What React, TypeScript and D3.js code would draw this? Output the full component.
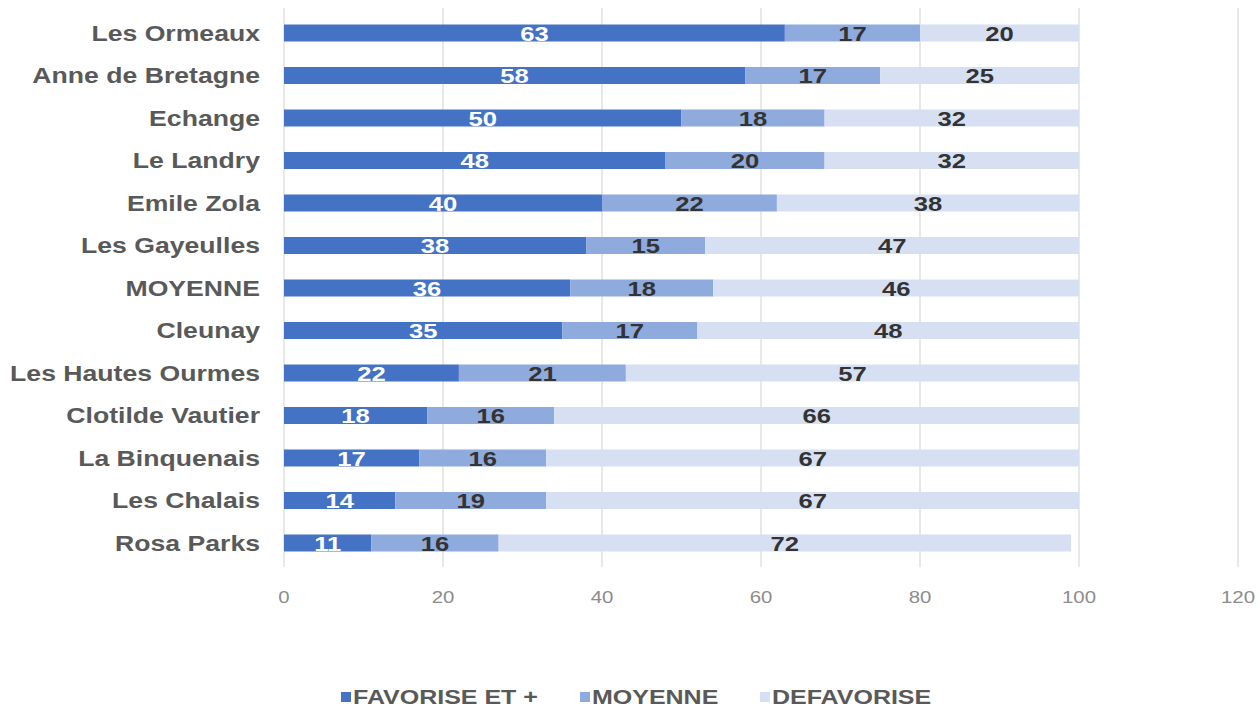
import React from "react";
import * as d3 from "d3";

const categories = [
  "Les Ormeaux",
  "Anne de Bretagne",
  "Echange",
  "Le Landry",
  "Emile Zola",
  "Les Gayeulles",
  "MOYENNE",
  "Cleunay",
  "Les Hautes Ourmes",
  "Clotilde Vautier",
  "La Binquenais",
  "Les Chalais",
  "Rosa Parks",
];
const favorise = [63, 58, 50, 48, 40, 38, 36, 35, 22, 18, 17, 14, 11];
const moyenne = [17, 17, 18, 20, 22, 15, 18, 17, 21, 16, 16, 19, 16];
const defavorise = [20, 25, 32, 32, 38, 47, 46, 48, 57, 66, 67, 67, 72];
const seriesNames = ["FAVORISE ET +", "MOYENNE", "DEFAVORISE"];
const xTicks = [0, 20, 40, 60, 80, 100, 120];

const colors = ["#4472C4", "#8FAADC", "#D6E0F2"];
const labelColors = ["#FFFFFF", "#333333", "#333333"];
const FONT = "'Liberation Sans', Arial, sans-serif";

function T({ x, y, anchor = "start", size, weight = "normal", fill, sx = 1.2, children }: any) {
  return (
    <g transform={`translate(${x},${y}) scale(${sx},1)`}>
      <text x={0} y={0} dy="0.36em" textAnchor={anchor} fontSize={size} fontWeight={weight} fill={fill}>
        {children}
      </text>
    </g>
  );
}

export default function App() {
  const W = 1260;
  const H = 712;
  const x = d3.scaleLinear().domain([0, 120]).range([284, 1238]);
  const y = d3.scaleBand().domain(categories).range([11.75, 564.25]).paddingInner(0.6).paddingOuter(0.3);

  const rows = categories.map((c, i) => ({ cat: c, v: [favorise[i], moyenne[i], defavorise[i]] }));
  const stack = d3.stack<any>().keys(["0", "1", "2"]).value((d: any, k: string) => d.v[+k]);
  const stacked = stack(rows);

  const legendX = [341, 580, 760];

  return (
    <svg width={W} height={H} style={{ position: "absolute", left: 0, top: 0, background: "#fff" }} fontFamily={FONT}>
      {xTicks.map((t) => (
        <g key={t}>
          <line x1={x(t)} x2={x(t)} y1={8} y2={567} stroke="#D9D9D9" strokeWidth={1.2} />
          <T x={x(t)} y={597} anchor="middle" size={17} fill="#8C8C8C" sx={1.2}>
            {t}
          </T>
        </g>
      ))}
      {stacked.map((layer, si) =>
        layer.map((d, i) => (
          <rect
            key={`${si}-${i}`}
            x={x(d[0])}
            y={y(categories[i])!}
            width={x(d[1]) - x(d[0])}
            height={y.bandwidth()}
            fill={colors[si]}
          />
        ))
      )}
      {stacked.map((layer, si) =>
        layer.map((d, i) => (
          <T
            key={`l${si}-${i}`}
            x={(x(d[0]) + x(d[1])) / 2}
            y={y(categories[i])! + y.bandwidth() / 2}
            anchor="middle"
            size={21}
            weight="bold"
            fill={labelColors[si]}
            sx={1.22}
          >
            {d[1] - d[0]}
          </T>
        ))
      )}
      {categories.map((c) => (
        <T key={c} x={260} y={y(c)! + y.bandwidth() / 2} anchor="end" size={22} weight="bold" fill="#595959" sx={1.21}>
          {c}
        </T>
      ))}
      {seriesNames.map((s, i) => (
        <g key={s}>
          <rect x={legendX[i]} y={692} width={10} height={10} fill={colors[i]} />
          <T x={legendX[i] + 12} y={697} size={20} weight="bold" fill="#595959" sx={1.25}>
            {s}
          </T>
        </g>
      ))}
    </svg>
  );
}
